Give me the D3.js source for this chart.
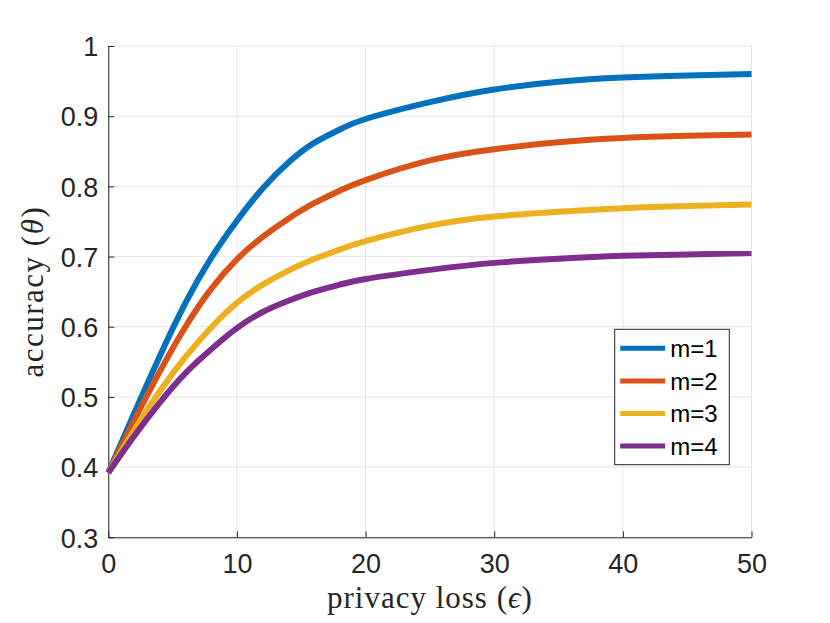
<!DOCTYPE html>
<html lang="en">
	<head>
		<meta charset="utf-8">
		<title>accuracy vs privacy loss</title>
		<script type="text/javascript" src="https://d3js.org/d3.v7.min.js"></script>
		<style>
			body{margin:0;background:#fff;}
		</style>
	</head>
	<body>
		<svg id="chart"></svg>
		<script>
			// privacy loss (x) and accuracy for each m
			var eps =  [0, 2, 4, 6, 8, 10, 12, 14, 16, 18, 20, 25, 30, 35, 40, 45, 50];
			var accM1 = [0.392,0.476,0.558,0.634,0.698,0.751,0.797,0.834,0.862,0.881,0.896,0.920,0.938,0.949,0.955,0.958,0.960];
			var accM2 = [0.392,0.466,0.536,0.600,0.654,0.696,0.728,0.754,0.776,0.794,0.809,0.837,0.853,0.863,0.869,0.872,0.874];
			var accM3 = [0.392,0.452,0.508,0.557,0.599,0.634,0.660,0.680,0.6965,0.710,0.722,0.744,0.757,0.764,0.769,0.772,0.774];
			var accM4 = [0.392,0.444,0.492,0.534,0.568,0.598,0.621,0.637,0.650,0.660,0.668,0.681,0.691,0.697,0.701,0.703,0.705];
			var seriesNames = ["m=1","m=2","m=3","m=4"];
			var colors = ["#0072BD","#D95319","#EDB120","#7E2F8E"];
			var xTicks = [0,10,20,30,40,50];
			var yTicks = [0.3,0.4,0.5,0.6,0.7,0.8,0.9,1];

			var width=830, height=623;
			var border={left:108.3,right:78.5,top:46,bottom:85.7};

			var svg=d3.select("#chart").attr("width",width).attr("height",height);

			var xScale=d3.scaleLinear().domain([0,50]).range([border.left,width-border.right]);
			var yScale=d3.scaleLinear().domain([0.3,1]).range([height-border.bottom,border.top]);

			//grid
			var grid=svg.append("g").attr("stroke","#e6e6e6").attr("stroke-width",1);
			grid.selectAll("line.gx").data(xTicks).enter().append("line")
				.attr("x1",d=>xScale(d)).attr("x2",d=>xScale(d))
				.attr("y1",yScale(0.3)).attr("y2",yScale(1));
			grid.selectAll("line.gy").data(yTicks).enter().append("line")
				.attr("y1",d=>yScale(d)).attr("y2",d=>yScale(d))
				.attr("x1",xScale(0)).attr("x2",xScale(50));

			//axes
			var xAxis=d3.axisBottom(xScale).tickValues(xTicks).tickSizeInner(-6).tickSizeOuter(0).tickPadding(14);
			var yAxis=d3.axisLeft(yScale).tickValues(yTicks).tickSizeInner(-6).tickSizeOuter(0).tickPadding(10)
				.tickFormat(d=>d===1?"1":d3.format(".1f")(d));

			function styleAxis(g){
				g.select(".domain").attr("stroke","#262626").attr("stroke-width",1);
				g.selectAll(".tick line").attr("stroke","#262626");
				g.selectAll(".tick text").attr("fill","#262626")
					.attr("font-family","'Liberation Sans', Arial, sans-serif").attr("font-size","27px");
			}
			svg.append("g").attr("transform","translate(0,"+yScale(0.3)+")").call(xAxis).call(styleAxis)
				.selectAll(".tick text").attr("dy","0.71em").attr("y",17);
			svg.append("g").attr("transform","translate("+xScale(0)+",0)").call(yAxis).call(styleAxis)
				.selectAll(".tick text").attr("dy","0.36em");

			//curves
			var data=[accM1,accM2,accM3,accM4];
			var line=d3.line()
				.x((d,i)=>xScale(eps[i]))
				.y(d=>yScale(d))
				.curve(d3.curveNatural);
			svg.append("g").selectAll("path").data(data).enter().append("path")
				.attr("d",d=>line(d))
				.attr("fill","none")
				.attr("stroke",(d,i)=>colors[i])
				.attr("stroke-width",6)
				.attr("stroke-linejoin","round");

			//axis labels
			var xl=svg.append("text")
				.attr("x",(xScale(0)+xScale(50))/2).attr("y",608)
				.attr("text-anchor","middle")
				.attr("font-family","'Liberation Serif', 'DejaVu Serif', serif")
				.attr("font-size","31px").attr("letter-spacing","1px").attr("fill","#262626");
			xl.append("tspan").text("privacy loss (");
			xl.append("tspan").attr("font-style","italic").text("\u03f5");
			xl.append("tspan").text(")");

			var yl=svg.append("text")
				.attr("transform","translate(43,"+(yScale(0.3)+yScale(1))/2+") rotate(-90)")
				.attr("text-anchor","middle")
				.attr("font-family","'Liberation Serif', 'DejaVu Serif', serif")
				.attr("font-size","31px").attr("letter-spacing","1.5px").attr("fill","#262626");
			yl.append("tspan").text("accuracy (");
			yl.append("tspan").attr("font-style","italic").text("\u03b8");
			yl.append("tspan").text(")");

			//legend
			var lg=svg.append("g").attr("transform","translate(614.7,329.3)");
			lg.append("rect").attr("width",114.6).attr("height",135.4)
				.attr("fill","#fff").attr("stroke","#262626").attr("stroke-width",1);
			var items=lg.selectAll("g.item").data(seriesNames).enter().append("g")
				.attr("transform",(d,i)=>"translate(0,"+(19+i*32.6)+")");
			items.append("line").attr("x1",5.5).attr("x2",50.5).attr("y1",0).attr("y2",0)
				.attr("stroke",(d,i)=>colors[i]).attr("stroke-width",5);
			items.append("text").attr("x",55.5).attr("y",0).attr("dy","0.36em")
				.attr("font-family","'Liberation Sans', Arial, sans-serif").attr("font-size","24px")
				.attr("fill","#000").text(d=>d);
		</script>
	</body>
</html>
